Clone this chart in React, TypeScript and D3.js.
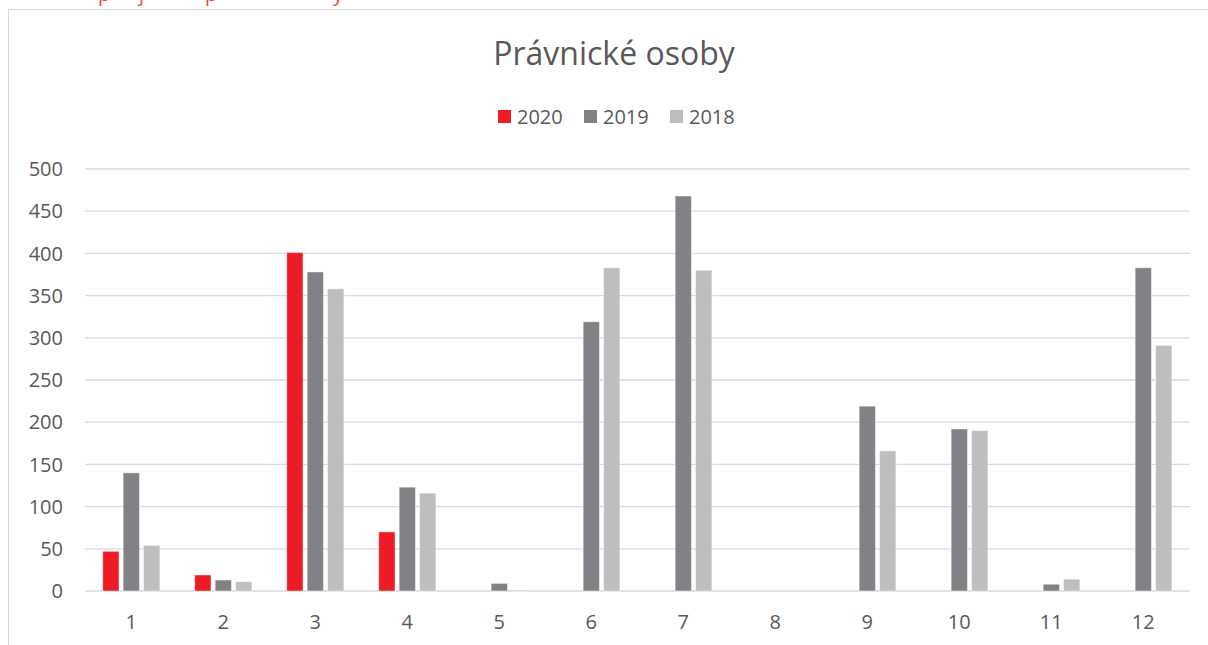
import React from "react";
import * as d3 from "d3";

const categories = ["1", "2", "3", "4", "5", "6", "7", "8", "9", "10", "11", "12"];
const seriesNames = ["2020", "2019", "2018"];
const values2020 = [47, 19, 401, 70, 0, 0, 0, 0, 0, 0, 0, 0];
const values2019 = [140, 13, 378, 123, 9, 319, 468, 0, 219, 192, 8, 383];
const values2018 = [54, 11, 358, 116, 1, 383, 380, 0, 166, 190, 14, 291];
const yTicks = [0, 50, 100, 150, 200, 250, 300, 350, 400, 450, 500];
const colors = ["#ed1c24", "#808285", "#bcbec0"];
const topDescenders = [
  { ch: "p", x: 98 },
  { ch: "j", x: 139 },
  { ch: "p", x: 205 },
  { ch: "y", x: 333 },
];

const FONT = "'Open Sans', 'Liberation Sans', sans-serif";

export default function App() {
  const W = 1208;
  const H = 645;
  const series = [values2020, values2019, values2018];
  const x = d3.scaleBand<string>().domain(categories).range([85.3, 1189.3]).paddingInner(0).paddingOuter(0);
  const y = d3.scaleLinear().domain([0, 500]).range([591, 169]);
  const step = x.bandwidth();
  const barW = step * 0.177;
  const barStep = step * 0.222;

  return (
    <svg
      width={W}
      height={H}
      style={{ position: "absolute", left: 0, top: 0, background: "#fff" }}
      fontFamily={FONT}
    >
      <rect x={0} y={0} width={W} height={H} fill="#fff" />
      {topDescenders.map((d, i) => (
        <text key={i} x={d.x} y={0.5} fontSize={20} fill="#f04a1f" fontFamily={FONT}>
          {d.ch}
        </text>
      ))}
      <rect x={8.5} y={9.5} width={W} height={H} fill="none" stroke="#d9d9d9" strokeWidth={1} />
      <text x={614} y={65} textAnchor="middle" fontSize={32} fill="#595959">
        Právnické osoby
      </text>
      {seriesNames.map((s, i) => {
        const lx = 498 + i * 86;
        return (
          <g key={s}>
            <rect x={lx} y={110} width={13} height={13} fill={colors[i]} />
            <text x={lx + 19} y={123.5} fontSize={20} fill="#595959">
              {s}
            </text>
          </g>
        );
      })}
      {yTicks.map((t) => (
        <g key={t}>
          <line x1={85} x2={1189.5} y1={y(t)} y2={y(t)} stroke="#d9d9d9" strokeWidth={1.3} />
          <text x={63} y={y(t)} dy="0.36em" textAnchor="end" fontSize={20} fill="#595959">
            {t}
          </text>
        </g>
      ))}
      {categories.map((c, ci) => {
        const cx = (x(c) as number) + step / 2;
        return (
          <g key={c}>
            {series.map((vals, si) => {
              const v = vals[ci];
              if (!v) return null;
              const bx = cx + (si - 1) * barStep - barW / 2;
              return (
                <rect
                  key={si}
                  x={bx}
                  y={y(v)}
                  width={barW}
                  height={y(0) - y(v)}
                  fill={colors[si]}
                  stroke="#ffffff"
                  strokeOpacity={0.45}
                  strokeWidth={1}
                />
              );
            })}
            <text x={cx} y={629} textAnchor="middle" fontSize={20} fill="#595959">
              {c}
            </text>
          </g>
        );
      })}
    </svg>
  );
}
